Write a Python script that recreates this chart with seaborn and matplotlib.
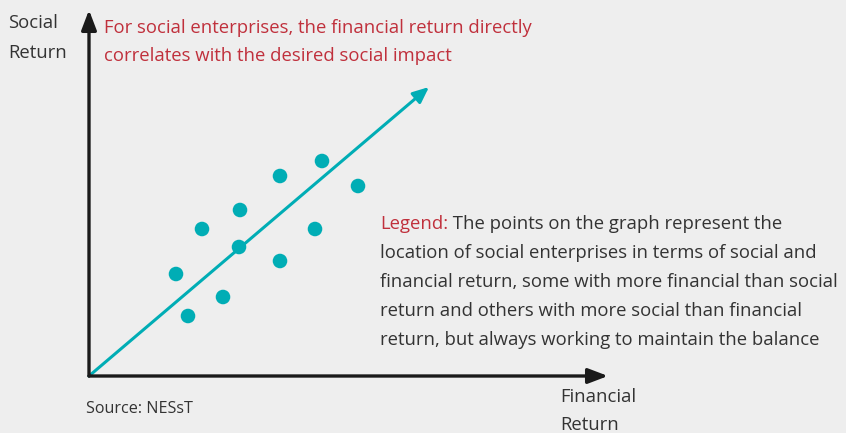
import matplotlib
matplotlib.use("Agg")
import matplotlib.pyplot as plt
import seaborn as sns
import pandas as pd

# positions of enterprises (financial return, social return), arbitrary units
financial = [8.7, 9.9, 13.4, 11.3, 15.0, 15.1, 19.1, 19.1, 22.6, 23.3, 26.9]
social = [10.2, 6.0, 7.9, 14.7, 12.9, 16.6, 20.0, 11.5, 14.7, 21.5, 19.0]
trend_end = (34.0, 28.9)
x_axis_end = 51.9
y_axis_end = 36.6

title_lines = ["For social enterprises, the financial return directly",
               "correlates with the desired social impact"]
legend_head = "Legend:"
legend_lines = ["The points on the graph represent the",
                "location of social enterprises in terms of social and",
                "financial return, some with more financial than social",
                "return and others with more social than financial",
                "return, but always working to maintain the balance"]

BG = "#eeeeee"
TEAL = "#00adb5"
RED = "#c0303c"
GREY = "#333333"
W, H = 846, 433

sns.set_theme(style="white")
plt.rcParams["font.family"] = ["Open Sans", "DejaVu Sans"]

fig = plt.figure(figsize=(W / 100, H / 100), dpi=100, facecolor=BG)
ax = fig.add_axes([0, 0, 1, 1])
ax.set_facecolor(BG)
ax.set_xlim(-8.9, 75.7)
ax.set_ylim(-5.7, 37.6)
ax.axis("off")

df = pd.DataFrame({"financial": financial, "social": social})

# trend arrow
ax.annotate("", xy=trend_end, xytext=(0, 0),
            arrowprops=dict(arrowstyle="-|>,head_length=0.8,head_width=0.35",
                            color=TEAL, lw=2.2, shrinkA=0, shrinkB=0))

# axes arrows
for end in [(x_axis_end, 0), (0, y_axis_end)]:
    ax.annotate("", xy=end, xytext=(0, 0),
                arrowprops=dict(arrowstyle="-|>,head_length=1.0,head_width=0.38",
                                color="#1a1a1a", lw=2.4, shrinkA=0, shrinkB=0))

sns.scatterplot(data=df, x="financial", y="social", ax=ax, s=110,
                color=TEAL, edgecolor="none", zorder=3, legend=False)


def px(x, y):
    return x / W, 1 - y / H


fs = 13.3
for i, line in enumerate(title_lines):
    fig.text(*px(104, 28 + i * 28), line, color=RED, fontsize=fs, va="center")

fig.text(*px(8, 23), "Social", color=GREY, fontsize=fs, va="center")
fig.text(*px(8, 53), "Return", color=GREY, fontsize=fs, va="center")
fig.text(*px(560, 397), "Financial", color=GREY, fontsize=fs, va="center")
fig.text(*px(560, 425), "Return", color=GREY, fontsize=fs, va="center")
fig.text(*px(86, 409), "Source: NESsT", color=GREY, fontsize=11.6, va="center")

head = fig.text(*px(380, 224), legend_head, color=RED, fontsize=fs, va="center")
ax.annotate(" " + legend_lines[0], xy=(1, 0.5), xycoords=head, va="center",
            ha="left", color=GREY, fontsize=fs)
for i, line in enumerate(legend_lines[1:], start=1):
    fig.text(*px(380, 224 + i * 29), line, color=GREY, fontsize=fs, va="center")

fig.savefig("out.png", dpi=100, facecolor=BG)
